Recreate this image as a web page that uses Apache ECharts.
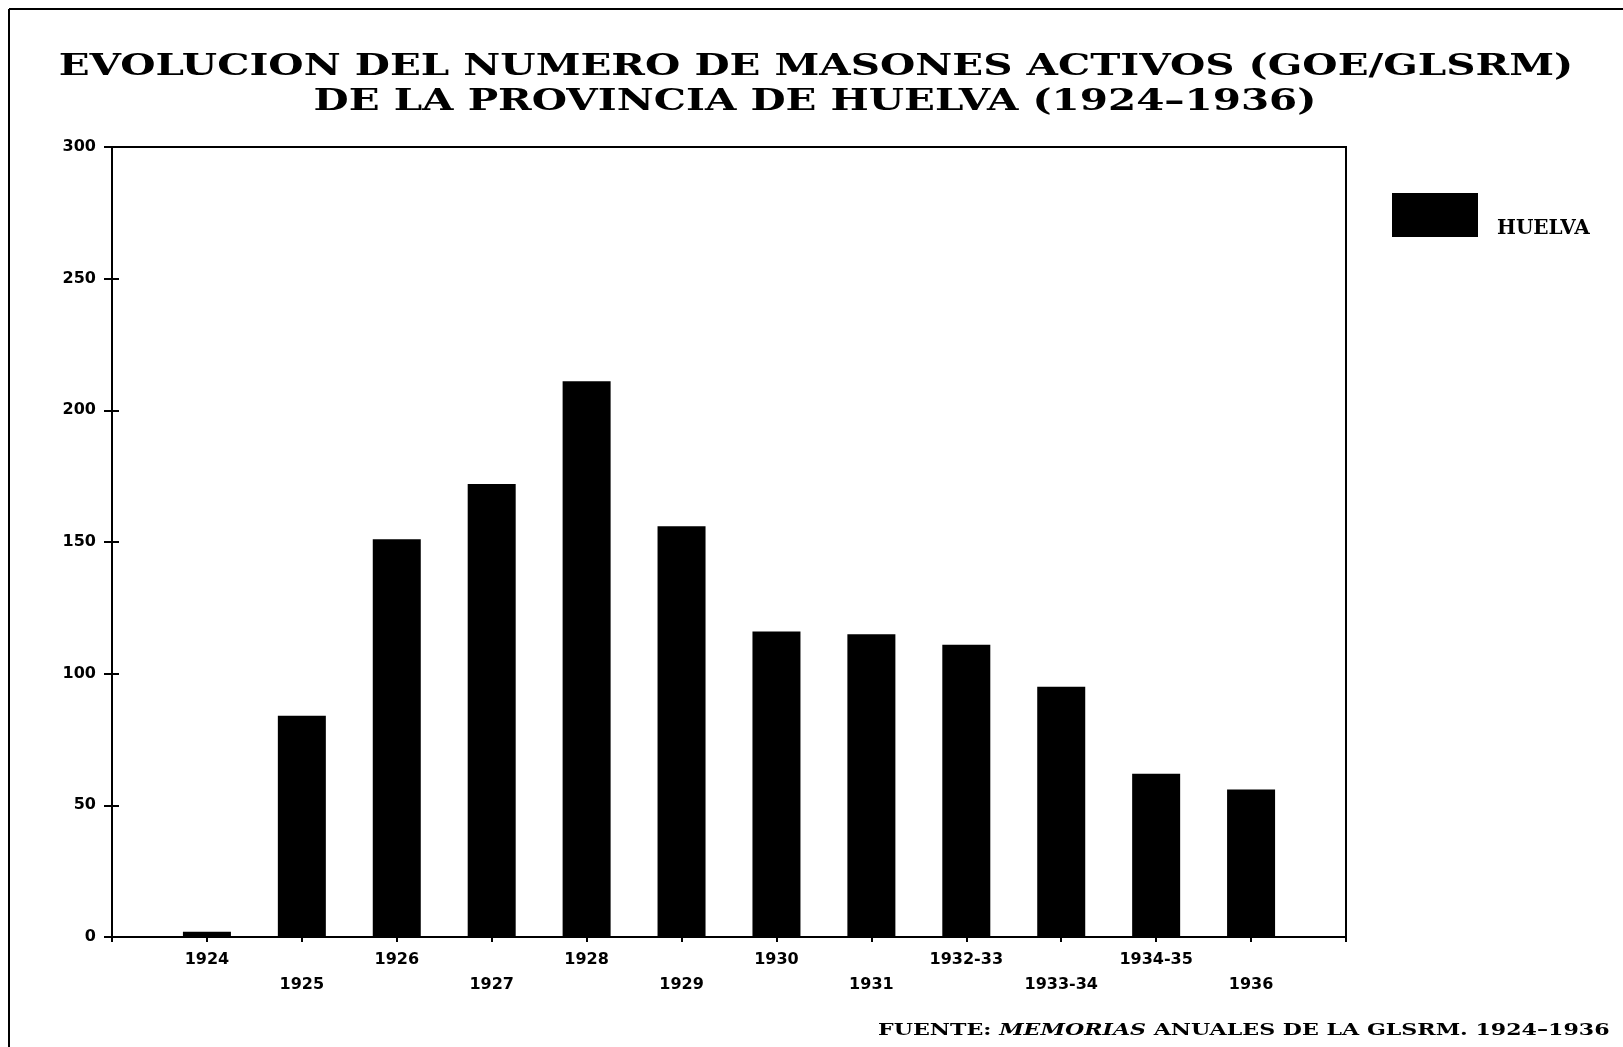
<!DOCTYPE html>
<html>
<head>
<meta charset="utf-8">
<script src="https://cdn.jsdelivr.net/npm/echarts@6/dist/echarts.min.js"></script>
<style>
html,body{margin:0;padding:0;background:#fff;}
#chart{width:1623px;height:1047px;}
</style>
</head>
<body>
<div id="chart"></div>
<script>
const categories = ['1924','1925','1926','1927','1928','1929','1930','1931','1932-33','1933-34','1934-35','1936'];
const huelva = [2, 84, 151, 172, 211, 156, 116, 115, 111, 95, 62, 56];
const yTicks = [0, 50, 100, 150, 200, 250, 300];
const seriesName = 'HUELVA';
const titleLines = ['EVOLUCION DEL NUMERO DE MASONES ACTIVOS (GOE/GLSRM)', 'DE LA PROVINCIA DE HUELVA (1924\u20131936)'];

const axisCats = [''].concat(categories).concat(['']);
const axisData = [null].concat(huelva).concat([null]);

const chart = echarts.init(document.getElementById('chart'), null, {renderer:'canvas'});
const serif = '"DejaVu Serif", "Liberation Serif", serif';
const sans = '"DejaVu Sans", sans-serif';

chart.setOption({
  backgroundColor: '#fff',
  animation: false,
  legend: {
    data: [seriesName],
    left: 1387,
    top: 188,
    itemWidth: 86,
    itemHeight: 44,
    itemGap: 0,
    icon: 'rect',
    formatter: '{a|{name}}',
    textStyle: {color: '#000', rich: {a: {fontFamily: serif, fontWeight: 'bold', fontSize: 20, color: '#000', padding: [28, 0, 0, 14]}}}
  },
  grid: {left: 112, right: 277, top: 147, bottom: 110, show: true, borderColor: '#000', borderWidth: 2, backgroundColor: 'transparent'},
  xAxis: {
    type: 'category',
    data: axisCats,
    boundaryGap: false,
    axisLine: {lineStyle: {color: '#000', width: 2}},
    axisTick: {show: true, length: 5, interval: 0, lineStyle: {color: '#000', width: 2}},
    axisLabel: {
      interval: 0, margin: 10, color: '#000', fontFamily: sans, fontWeight: 'bold', fontSize: 16, lineHeight: 25,
      formatter: function(v, i){ if(!v) return ''; return (i % 2 === 0) ? '\n' + v : v; }
    },
    splitLine: {show: false}
  },
  yAxis: {
    type: 'value', min: yTicks[0], max: yTicks[yTicks.length-1], interval: 50, offset: -7,
    axisLine: {show: false},
    axisTick: {show: true, length: 15, lineStyle: {color: '#000', width: 2}},
    axisLabel: {margin: 23, color: '#000', fontFamily: sans, fontWeight: 'bold', fontSize: 16},
    splitLine: {show: false}
  },
  series: [{
    name: seriesName,
    type: 'bar',
    data: axisData,
    barWidth: 48,
    itemStyle: {color: '#000'}
  }],
  graphic: [
    {type: 'line', shape: {x1: 9, y1: 9, x2: 1623, y2: 9}, style: {stroke: '#000', lineWidth: 2}},
    {type: 'line', shape: {x1: 9, y1: 9, x2: 9, y2: 1047}, style: {stroke: '#000', lineWidth: 2}},
    {type: 'text', x: 816, y: 67, scaleX: 1.35, style: {text: titleLines[0], x: 0, y: 0, align: 'center', verticalAlign: 'middle',
      fontFamily: serif, fontWeight: 'bold', fontSize: 30, fill: '#000'}},
    {type: 'text', x: 815, y: 102, scaleX: 1.35, style: {text: titleLines[1], x: 0, y: 0, align: 'center', verticalAlign: 'middle',
      fontFamily: serif, fontWeight: 'bold', fontSize: 30, fill: '#000'}},
    {type: 'text', x: 878, y: 1031, scaleX: 1.3, style: {
      x: 0, y: 0, verticalAlign: 'middle',
      text: '{b|FUENTE: }{i|MEMORIAS}{b| ANUALES DE LA GLSRM. 1924\u20131936}',
      rich: {
        b: {fontFamily: serif, fontWeight: 'bold', fontSize: 17, fill: '#000'},
        i: {fontFamily: serif, fontWeight: 'bold', fontStyle: 'italic', fontSize: 17, fill: '#000'}
      }
    }}
  ]
});
</script>
</body>
</html>
